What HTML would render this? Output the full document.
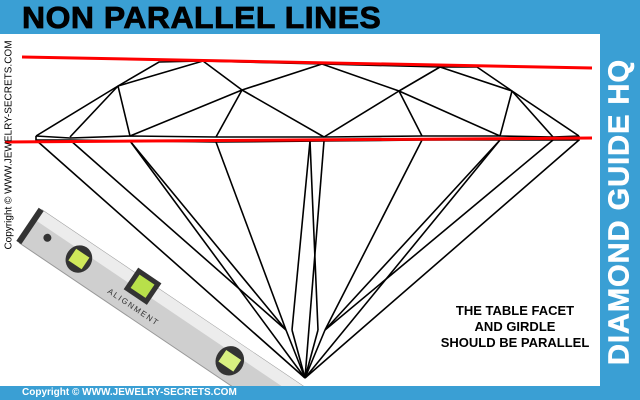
<!DOCTYPE html>
<html><head><style>
html,body{margin:0;width:640px;height:400px;overflow:hidden}
#c{position:relative;width:640px;height:400px;background:#fff;overflow:hidden;font-family:"Liberation Sans",sans-serif}
.top{position:absolute;left:0;top:0;width:640px;height:34px;background:#3a9fd4}
.title{position:absolute;left:22px;top:0px;font-size:31px;font-weight:bold;color:#000;letter-spacing:0.5px;transform:scaleX(1.03);transform-origin:left;-webkit-text-stroke:0.8px #000}
.right{position:absolute;left:600px;top:34px;width:40px;height:366px;background:#3a9fd4}
.bot{position:absolute;left:0;top:386px;width:640px;height:14px;background:#3a9fd4}
.bt{position:absolute;left:22px;top:386px;font-size:10px;font-weight:bold;color:#fff;line-height:14px}
.rt{position:absolute;left:620px;top:212px;transform:translate(-50%,-50%) rotate(-90deg);white-space:nowrap;color:#fff;font-weight:bold;font-size:29px;letter-spacing:1px;-webkit-text-stroke:0.6px #fff}
.lt{position:absolute;left:9px;top:145px;transform:translate(-50%,-50%) rotate(-90deg);white-space:nowrap;font-size:10px;color:#000}
.txt{position:absolute;left:410px;top:303px;width:210px;text-align:center;font-size:13px;font-weight:bold;line-height:16px}
</style></head><body><div id="c">
<svg width="640" height="400" style="position:absolute;left:0;top:0">
<g stroke="#000" stroke-width="1.6" fill="none">
<polyline points="36,136 70,138 130,136 216,137 324,137 422,136 500,136 553,137 579,136"/>
<polyline points="36,136 36,140 70,140 130,141 216,142 324,141 422,140 500,140 553,140 579,140 579,136"/>
<polyline points="36,136 118,86 159,62 203,61 322,64 440,67 477,67 512,91 579,136"/>
<line x1="70" y1="137" x2="118" y2="86"/><line x1="118" y1="86" x2="130" y2="136"/><line x1="118" y1="86" x2="203" y2="61"/>
<line x1="130" y1="136" x2="242" y2="90"/><line x1="203" y1="61" x2="242" y2="90"/><line x1="242" y1="90" x2="322" y2="64"/>
<line x1="242" y1="90" x2="216" y2="137"/><line x1="242" y1="90" x2="324" y2="137"/>
<line x1="322" y1="64" x2="399" y2="91"/><line x1="440" y1="67" x2="399" y2="91"/><line x1="399" y1="91" x2="324" y2="137"/>
<line x1="399" y1="91" x2="422" y2="136"/><line x1="399" y1="91" x2="500" y2="136"/>
<line x1="440" y1="67" x2="512" y2="91"/><line x1="512" y1="91" x2="500" y2="136"/><line x1="512" y1="91" x2="553" y2="137"/>
<line x1="36" y1="140" x2="305" y2="378"/><line x1="130" y1="141" x2="305" y2="378"/><line x1="324" y1="141" x2="305" y2="378"/>
<line x1="500" y1="140" x2="305" y2="378"/><line x1="579" y1="140" x2="305" y2="378"/>
<line x1="70" y1="140" x2="286" y2="330"/><line x1="216" y1="142" x2="286" y2="330"/>
<line x1="310" y1="141" x2="292" y2="330"/><line x1="292" y1="330" x2="305" y2="378"/>
<line x1="310" y1="141" x2="318" y2="330"/><line x1="318" y1="330" x2="305" y2="378"/>
<line x1="422" y1="140" x2="325" y2="330"/><line x1="553" y1="140" x2="325" y2="330"/>
<line x1="286" y1="330" x2="305" y2="378"/><line x1="325" y1="330" x2="305" y2="378"/>
<line x1="130" y1="141" x2="286" y2="330"/><line x1="500" y1="140" x2="325" y2="330"/>
</g>
<line x1="22" y1="57" x2="592" y2="68" stroke="#f00" stroke-width="3"/>
<line x1="5" y1="142" x2="592" y2="138" stroke="#f00" stroke-width="3"/>
<g transform="translate(42,210) rotate(34)">
<rect x="0" y="0" width="340" height="40" fill="#cfcfcf" stroke="#999"/>
<rect x="0" y="0" width="340" height="12" fill="#ececec"/>
<rect x="-4" y="0" width="6" height="40" fill="#333"/>
<circle cx="20" cy="20" r="4" fill="#333"/>
<ellipse cx="58" cy="20" rx="13" ry="14" fill="#333"/><rect x="50" y="13" width="16" height="14" fill="#cfe85a"/>
<rect x="112" y="-6" width="28" height="26" fill="#333"/><rect x="117" y="-1" width="18" height="16" fill="#b8e04a"/>
<ellipse cx="240" cy="20" rx="14" ry="15" fill="#333"/><rect x="231" y="13" width="18" height="14" fill="#d8f080"/>
<text x="100" y="32" font-size="8" font-family="Liberation Sans" fill="#333" letter-spacing="1.5">ALIGNMENT</text>
</g>
</svg>
<div class="top"></div><div class="title">NON PARALLEL LINES</div>
<div class="right"></div><div class="rt">DIAMOND GUIDE HQ</div>
<div class="bot"></div><div class="bt">Copyright © WWW.JEWELRY-SECRETS.COM</div>
<div class="lt">Copyright © WWW.JEWELRY-SECRETS.COM</div>
<div class="txt">THE TABLE FACET<br>AND GIRDLE<br>SHOULD BE PARALLEL</div>
</div></body></html>
